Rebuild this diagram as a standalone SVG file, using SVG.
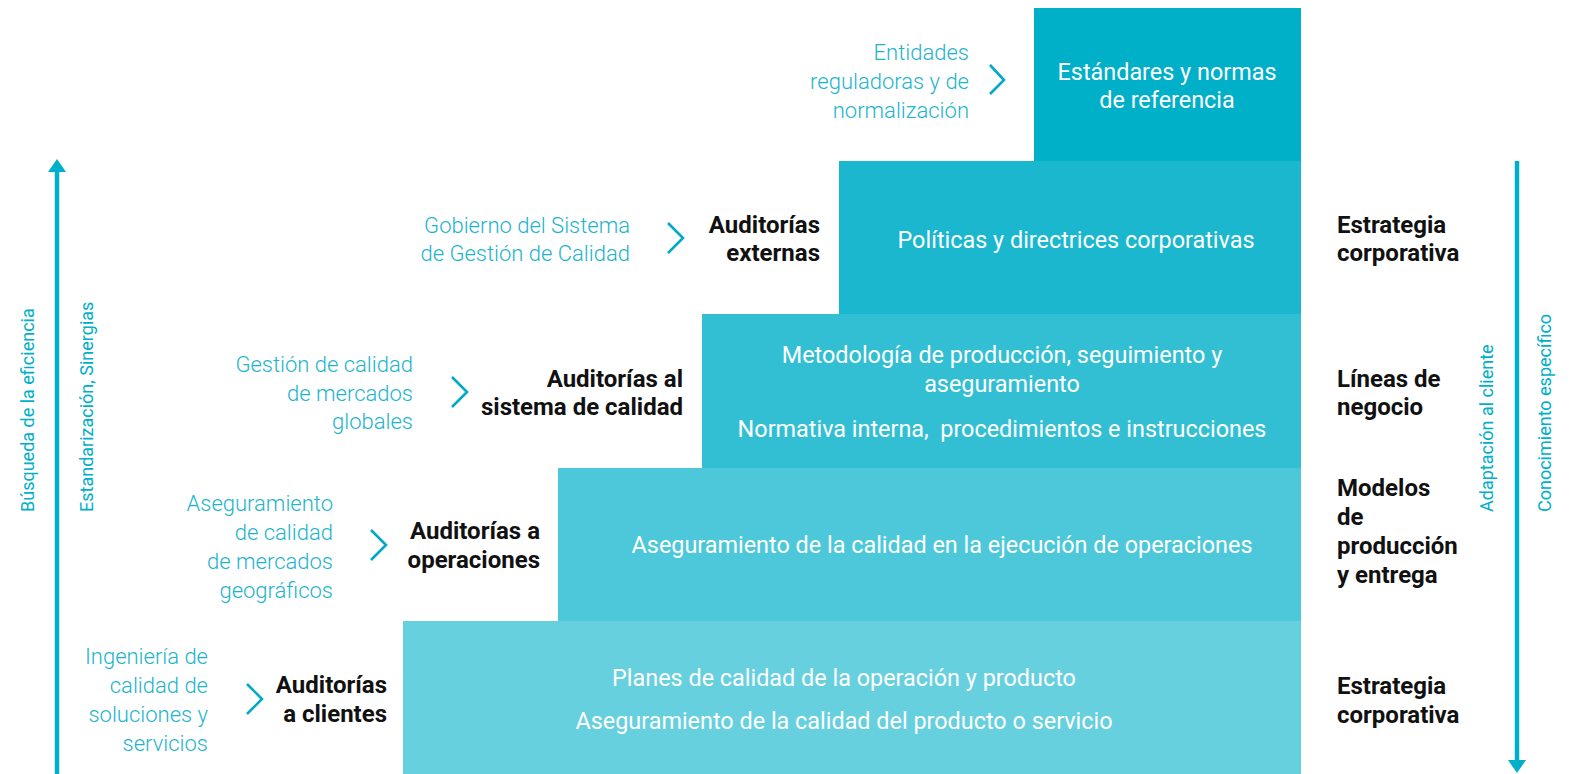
<svg xmlns="http://www.w3.org/2000/svg" width="1575" height="774" viewBox="0 0 1575 774">
<style>
.lt{font-family:Roboto,"Liberation Sans",sans-serif;font-weight:300;font-size:22px;fill:#1DB4CC;text-anchor:end}
.bd{font-family:Roboto,"Liberation Sans",sans-serif;font-weight:700;font-size:24px;fill:#111}
.bdr{text-anchor:end}
.wt{font-family:Roboto,"Liberation Sans",sans-serif;font-weight:400;font-size:23.4px;fill:#fff;text-anchor:middle}
.rot{font-family:Roboto,"Liberation Sans",sans-serif;font-weight:400;font-size:18px;fill:#00AFC9}
.chev{fill:none;stroke:#00AAC6;stroke-width:2.6}
.axis{stroke:#00AFC9;stroke-width:4.5;fill:none}
</style>
<defs>
<marker id="ah" viewBox="0 0 13 18" refX="0" refY="9" markerWidth="13" markerHeight="18" markerUnits="userSpaceOnUse" orient="auto">
<path d="M0,0 L13,9 L0,18 z" fill="#00AFC9"/>
</marker>
</defs>
<rect width="1575" height="774" fill="#fff"/>

<g id="level1">
<rect x="1034" y="8" width="267" height="154" fill="#00AFC8"/>
<text class="wt" x="1167" y="80">Estándares y normas</text>
<text class="wt" x="1167" y="108">de referencia</text>
<text class="lt" x="969" y="60">Entidades</text>
<text class="lt" x="969" y="89">reguladoras y de</text>
<text class="lt" x="969" y="118">normalización</text>
</g>

<g id="level2">
<rect x="839" y="161" width="462" height="154" fill="#1AB7CE"/>
<text class="wt" x="1076" y="248">Políticas y directrices corporativas</text>
<text class="lt" x="630" y="233">Gobierno del Sistema</text>
<text class="lt" x="630" y="261">de Gestión de Calidad</text>
<text class="bd bdr" x="820" y="233">Auditorías</text>
<text class="bd bdr" x="820" y="261">externas</text>
<text class="bd" x="1337" y="233">Estrategia</text>
<text class="bd" x="1337" y="261">corporativa</text>
</g>

<g id="level3">
<rect x="702" y="314" width="599" height="155" fill="#33BFD3"/>
<text class="wt" x="1002" y="363">Metodología de producción, seguimiento y</text>
<text class="wt" x="1002" y="392">aseguramiento</text>
<text class="wt" x="1002" y="437" xml:space="preserve">Normativa interna,  procedimientos e instrucciones</text>
<text class="lt" x="413" y="372">Gestión de calidad</text>
<text class="lt" x="413" y="401">de mercados</text>
<text class="lt" x="413" y="429">globales</text>
<text class="bd bdr" x="683" y="387">Auditorías al</text>
<text class="bd bdr" x="683" y="415">sistema de calidad</text>
<text class="bd" x="1337" y="387">Líneas de</text>
<text class="bd" x="1337" y="415">negocio</text>
</g>

<g id="level4">
<rect x="558" y="468" width="743" height="154" fill="#4DC8DA"/>
<text class="wt" x="942" y="553">Aseguramiento de la calidad en la ejecución de operaciones</text>
<text class="lt" x="333" y="511">Aseguramiento</text>
<text class="lt" x="333" y="540">de calidad</text>
<text class="lt" x="333" y="569">de mercados</text>
<text class="lt" x="333" y="598">geográficos</text>
<text class="bd bdr" x="540" y="539">Auditorías a</text>
<text class="bd bdr" x="540" y="568">operaciones</text>
<text class="bd" x="1337" y="496">Modelos</text>
<text class="bd" x="1337" y="525">de</text>
<text class="bd" x="1337" y="554">producción</text>
<text class="bd" x="1337" y="583">y entrega</text>
</g>

<g id="level5">
<rect x="403" y="621" width="898" height="153" fill="#66D0DF"/>
<text class="wt" x="844" y="686">Planes de calidad de la operación y producto</text>
<text class="wt" x="844" y="729">Aseguramiento de la calidad del producto o servicio</text>
<text class="lt" x="208" y="664">Ingeniería de</text>
<text class="lt" x="208" y="693">calidad de</text>
<text class="lt" x="208" y="722">soluciones y</text>
<text class="lt" x="208" y="751">servicios</text>
<text class="bd bdr" x="387" y="693">Auditorías</text>
<text class="bd bdr" x="387" y="722">a clientes</text>
<text class="bd" x="1337" y="694">Estrategia</text>
<text class="bd" x="1337" y="723">corporativa</text>
</g>

<g id="axis-left">
<text class="rot" transform="translate(34,512) rotate(-90)">Búsqueda de la eficiencia</text>
<text class="rot" transform="translate(93,512) rotate(-90)">Estandarización, Sinergias</text>
</g>

<g id="axis-right">
<text class="rot" transform="translate(1493,512) rotate(-90)">Adaptación al cliente</text>
<text class="rot" transform="translate(1551,512) rotate(-90)">Conocimiento específico</text>
</g>

<g id="connectors">
<polyline class="chev" points="990,65 1004,80 990,94"/>
<polyline class="chev" points="668,223 683,238 668,253"/>
<polyline class="chev" points="452,377 467,392 452,407"/>
<polyline class="chev" points="371,530 386,545 371,560"/>
<polyline class="chev" points="247,684 262,699 247,714"/>
<line class="axis" x1="57" y1="774" x2="57" y2="172" marker-end="url(#ah)"/>
<line class="axis" x1="1517" y1="161" x2="1517" y2="760" marker-end="url(#ah)"/>
</g>
</svg>
